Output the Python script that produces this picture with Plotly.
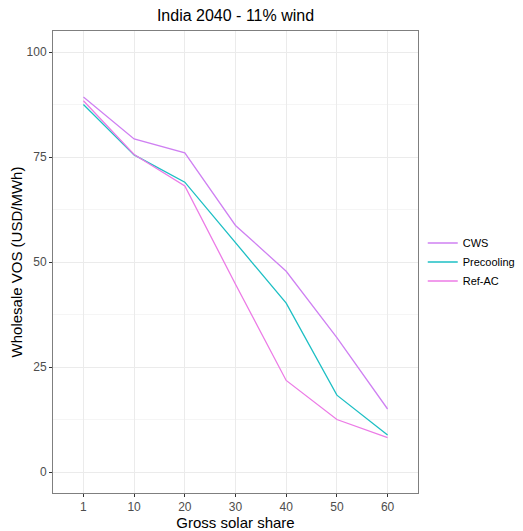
import plotly.graph_objects as go

categories = ["1", "10", "20", "30", "40", "50", "60"]
cws = [89.3, 79.3, 76.0, 58.7, 47.8, 32.0, 15.0]
precooling = [87.5, 75.5, 69.0, 54.5, 40.2, 18.3, 8.8]
ref_ac = [88.4, 75.6, 68.1, 44.7, 21.8, 12.5, 8.2]

series = [("CWS", cws, "#CF80F2"), ("Precooling", precooling, "#1DBFC4"), ("Ref-AC", ref_ac, "#EC7BE6")]

fig = go.Figure()
for name, vals, col in series:
    fig.add_trace(go.Scatter(x=categories, y=vals, mode="lines", name=name,
                             line=dict(color=col, width=1.3)))

W, H = 515, 523
font = "Liberation Sans, Arial, sans-serif"
fig.update_layout(
    width=W, height=H,
    margin=dict(l=45, r=105, t=23, b=38, autoexpand=False),
    paper_bgcolor="white", plot_bgcolor="white",
    font=dict(family=font, color="#000000"),
    title=dict(text="India 2040 - 11% wind", x=(45 + 410) / 2 / W, xanchor="center",
               y=1 - 7 / H, yanchor="middle", automargin=False,
               font=dict(size=16, color="#000000")),
    showlegend=True,
    legend=dict(x=1.013, xanchor="left", y=0.5, yanchor="middle", font=dict(size=11, color="#000000"),
                bgcolor="rgba(0,0,0,0)", tracegroupgap=0),
    xaxis=dict(type="category", range=[-0.6, 6.6], showgrid=True, gridcolor="#EBEBEB", gridwidth=1,
               automargin=False,
               ticks="outside", ticklen=3, tickcolor="#333333", tickwidth=1,
               tickfont=dict(size=12, color="#4D4D4D"),
               title=dict(text="Gross solar share", font=dict(size=15, color="#000000"), standoff=0),
               showline=True, linecolor="#7F7F7F", linewidth=1, mirror=True, zeroline=False),
    yaxis=dict(range=[-5, 105], tickvals=[0, 25, 50, 75, 100], showgrid=True, gridcolor="#EBEBEB",
               gridwidth=1, automargin=False,
               minor=dict(tickvals=[12.5, 37.5, 62.5, 87.5], showgrid=True, gridcolor="#F5F5F5", gridwidth=1),
               ticks="outside", ticklen=3, tickcolor="#333333", tickwidth=1,
               tickfont=dict(size=12, color="#4D4D4D"),
               title=dict(text="Wholesale VOS (USD/MWh)", font=dict(size=15, color="#000000"), standoff=8),
               showline=True, linecolor="#7F7F7F", linewidth=1, mirror=True, zeroline=False),
)

fig.write_html("out.html")
